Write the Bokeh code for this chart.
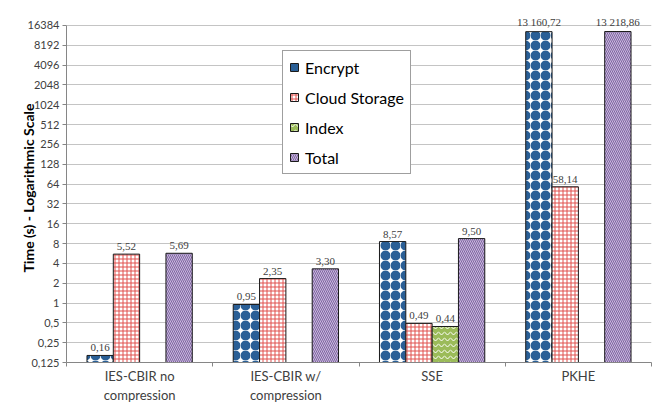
from bokeh.plotting import figure
from bokeh.models import ColumnDataSource, Range1d, FixedTicker, Legend, LegendItem, LabelSet
from bokeh.embed import file_html
from bokeh.resources import INLINE

groups = ["IES-CBIR no\ncompression", "IES-CBIR w/\ncompression", "SSE", "PKHE"]
series = ["Encrypt", "Cloud Storage", "Index", "Total"]
encrypt = [0.16, 0.95, 8.57, 13160.72]
cloud = [5.52, 2.35, 0.49, 58.14]
index = [None, None, 0.44, None]
total = [5.69, 3.30, 9.50, 13218.86]
y_ticks = [0.125, 0.25, 0.5, 1, 2, 4, 8, 16, 32, 64, 128, 256, 512, 1024, 2048, 4096, 8192, 16384]

def fmt(v):
    return f"{v:,.2f}".replace(",", " ").replace(".", ",")

def ytick_label(t):
    return (f"{t:g}").replace(".", ",")

FONT = "Lato"
p = figure(width=670, height=406, y_axis_type="log",
           x_range=Range1d(0, 4), y_range=Range1d(0.125, 2 ** 14.6),
           output_backend="svg", toolbar_location=None,
           min_border_left=66, min_border_right=19, min_border_top=13, min_border_bottom=44)
p.outline_line_color = None
p.xgrid.grid_line_color = None
p.ygrid.grid_line_color = "#C4C4C4"
p.ygrid.grid_line_width = 1

# y axis
p.yaxis.ticker = FixedTicker(ticks=y_ticks, minor_ticks=[])
p.yaxis.bounds = (0.125, 16384)
p.yaxis.major_label_overrides = {t: ytick_label(t) for t in y_ticks}
p.yaxis.axis_label = "Time (s) - Logarithmic Scale"
p.yaxis.axis_label_text_font = FONT
p.yaxis.axis_label_text_font_style = "bold"
p.yaxis.axis_label_text_font_size = "14px"
p.yaxis.axis_label_text_color = "#000000"
p.yaxis.axis_label_standoff = -12
p.yaxis.major_label_text_font = FONT
p.yaxis.major_label_text_font_size = "11px"
p.yaxis.major_label_text_color = "#404040"
p.yaxis.major_label_standoff = 3
p.yaxis.major_tick_out = 4
p.yaxis.major_tick_in = 0
p.yaxis.minor_tick_line_color = None
p.yaxis.axis_line_color = "#868686"
p.yaxis.major_tick_line_color = "#868686"

# x axis
centers = [i + 0.5 for i in range(len(groups))]
p.xaxis.ticker = FixedTicker(ticks=centers, minor_ticks=[0, 1, 2, 3, 4])
p.xaxis.major_label_overrides = {c: g for c, g in zip(centers, groups)}
p.xaxis.major_tick_line_color = None
p.xaxis.major_tick_out = 0
p.xaxis.major_tick_in = 0
p.xaxis.minor_tick_line_color = "#868686"
p.xaxis.minor_tick_out = 4
p.xaxis.minor_tick_in = 0
p.xaxis.axis_line_color = "#868686"
p.xaxis.major_label_text_font = FONT
p.xaxis.major_label_text_font_size = "13px"
p.xaxis.major_label_text_color = "#404040"
p.xaxis.major_label_standoff = 1

w = 0.18
offsets = [-1.5 * w, -0.5 * w, 0.5 * w, 1.5 * w]
styles = [
    dict(fill_color="white", hatch_pattern="ring", hatch_color="#2A5F96", hatch_scale=10, hatch_weight=5),
    dict(fill_color="white", hatch_pattern="cross", hatch_color="#E0504D", hatch_scale=4, hatch_weight=1),
    dict(fill_color="#9BBB59", hatch_pattern="horizontal_wave", hatch_color="white", hatch_scale=6, hatch_weight=1),
    dict(fill_color="#8064A2", hatch_pattern="left_diagonal_line", hatch_color="#C9BBDD", hatch_scale=4, hatch_weight=1),
]

items = []
for name, vals, off, st in zip(series, [encrypt, cloud, index, total], offsets, styles):
    xs = [c + off for c, v in zip(centers, vals) if v is not None]
    ys = [v for v in vals if v is not None]
    src = ColumnDataSource(dict(x=xs, top=ys, lab=[fmt(v) for v in ys]))
    r = p.vbar(x="x", top="top", bottom=0.125, width=w, source=src,
               line_color="#1a1a1a", line_width=1, **st)
    items.append(LegendItem(label=name, renderers=[r]))
    labels = LabelSet(x="x", y="top", text="lab", source=src, text_align="center",
                      text_baseline="bottom", y_offset=4, text_font=FONT,
                      text_font_size="11px", text_color="#404040")
    p.add_layout(labels)

legend = Legend(items=items, location=(216, 188))
legend.label_text_font = FONT
legend.label_text_font_size = "16px"
legend.label_text_color = "#000000"
legend.glyph_width = 10
legend.glyph_height = 10
legend.label_height = 20
legend.spacing = 10
legend.padding = 6
legend.margin = 0
legend.label_standoff = 6
legend.border_line_color = "#404040"
legend.background_fill_alpha = 1
p.add_layout(legend)

open("out.html", "w").write(file_html(p, INLINE))
